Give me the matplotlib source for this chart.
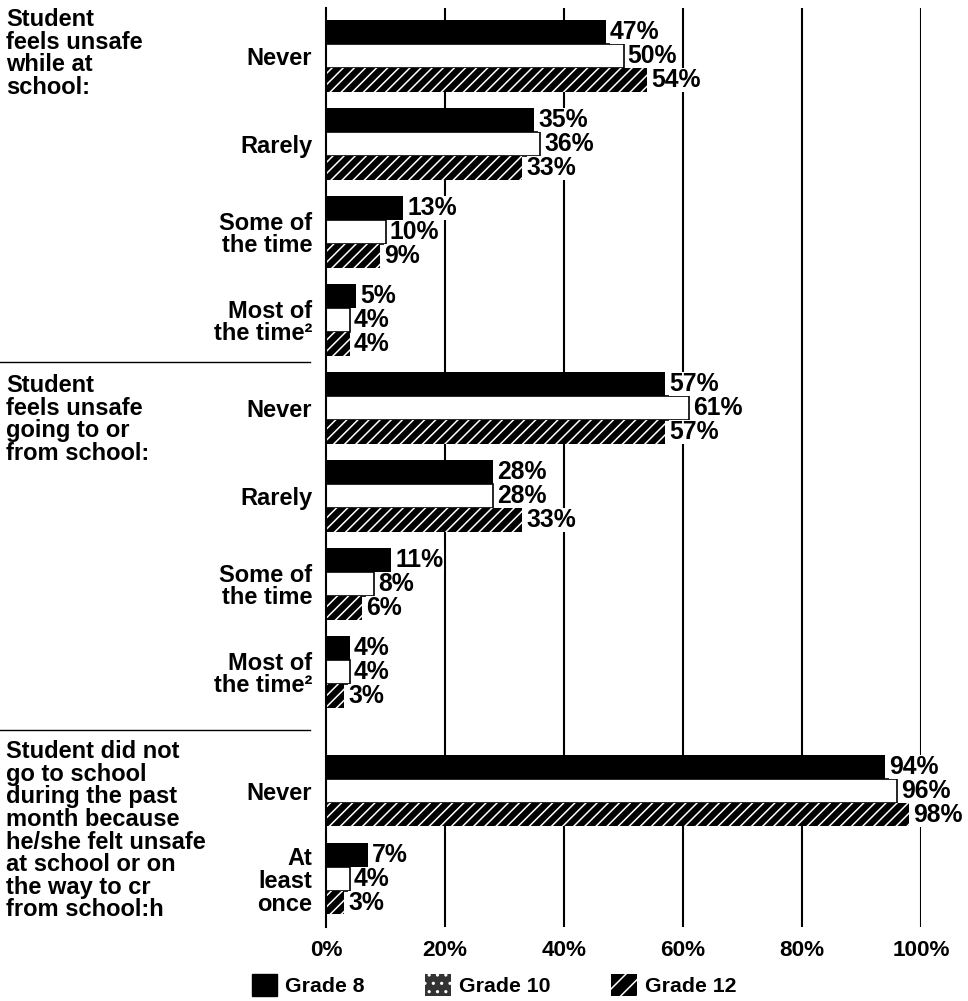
import matplotlib.pyplot as plt
from matplotlib.patches import Patch

plt.rcParams['font.family'] = ['Liberation Sans', 'DejaVu Sans']
plt.rcParams['font.weight'] = 'bold'
plt.rcParams['hatch.linewidth'] = 1.1

# data
sections = ["Student\nfeels unsafe\nwhile at\nschool:",
            "Student\nfeels unsafe\ngoing to or\nfrom school:",
            "Student did not\ngo to school\nduring the past\nmonth because\nhe/she felt unsafe\nat school or on\nthe way to cr\nfrom school:h"]
categories = ["Never", "Rarely", "Some of\nthe time", "Most of\nthe time\u00b2",
              "Never", "Rarely", "Some of\nthe time", "Most of\nthe time\u00b2",
              "Never", "At\nleast\nonce"]
grade8 = [47, 35, 13, 5, 57, 28, 11, 4, 94, 7]
grade10 = [50, 36, 10, 4, 61, 28, 8, 4, 96, 4]
grade12 = [54, 33, 9, 4, 57, 33, 6, 3, 98, 3]
xticks = [0, 20, 40, 60, 80, 100]

# layout: slot positions, extra gap before last section
pos = [0, 1, 2, 3, 4, 5, 6, 7, 8.35, 9.35]
bh = 0.27
fs = 17

fig = plt.figure(figsize=(9.68, 10.01), dpi=100)
ax = fig.add_axes([326/968, 1-927/1001, (921-326)/968, (927-8)/1001])

for x in xticks[1:]:
    ax.axvline(x, color='black', lw=1.5, zorder=0)

b8 = ax.barh([p - bh for p in pos], grade8, height=bh, color='black', zorder=2)
b10 = ax.barh(pos, grade10, height=bh, color='white', edgecolor='black', lw=1.2, zorder=2)
b12 = ax.barh([p + bh for p in pos], grade12, height=bh, color='black',
              edgecolor='white', hatch='///', lw=0, zorder=2)

for bars, vals in [(b8, grade8), (b10, grade10), (b12, grade12)]:
    for r, v in zip(bars, vals):
        ax.annotate(f"{v}%", (v, r.get_y() + r.get_height()/2), xytext=(3, 0),
                    textcoords='offset points', va='center', ha='left',
                    fontsize=17.8, fontweight='bold', annotation_clip=False,
                    bbox=dict(facecolor='white', edgecolor='none', pad=0), zorder=3)

ax.set_xlim(0, 100)
ax.set_ylim((927 - 56) / 88, -(56 - 8) / 88)
ax.set_yticks(pos)
ax.set_yticklabels(categories, fontsize=fs, fontweight='bold', linespacing=1.0)
ax.set_xticks(xticks)
ax.set_xticklabels([f"{t}%" for t in xticks], fontsize=16.2, fontweight='bold')
ax.tick_params(axis='x', length=0, pad=9)
ax.tick_params(axis='y', length=0, pad=10)
for s in ['top', 'right', 'bottom']:
    ax.spines[s].set_visible(False)
ax.spines['left'].set_linewidth(1.5)

# group titles and separators
for txt, ytop in zip(sections, [8, 374, 740]):
    fig.text(6/968, 1 - ytop/1001, txt, va='top', ha='left', fontsize=fs,
             fontweight='bold', linespacing=0.98)
for ysep in [362, 730]:
    fig.add_artist(plt.Line2D([0, 310/968], [1 - ysep/1001]*2, color='black', lw=1))

handles = [Patch(facecolor='black', edgecolor='black'),
           Patch(facecolor='#333333', edgecolor='white', hatch='..', lw=0),
           Patch(facecolor='black', edgecolor='white', hatch='//', lw=0)]
fig.legend(handles, ["Grade 8", "Grade 10", "Grade 12"], ncol=3, loc='center',
           bbox_to_anchor=(494/968, 1 - 985/1001), frameon=False, fontsize=15.3,
           handlelength=1.2, handleheight=1.2, columnspacing=2.85, handletextpad=0.38,
           borderpad=0)

fig.savefig('out.png', dpi=100, facecolor='white')
